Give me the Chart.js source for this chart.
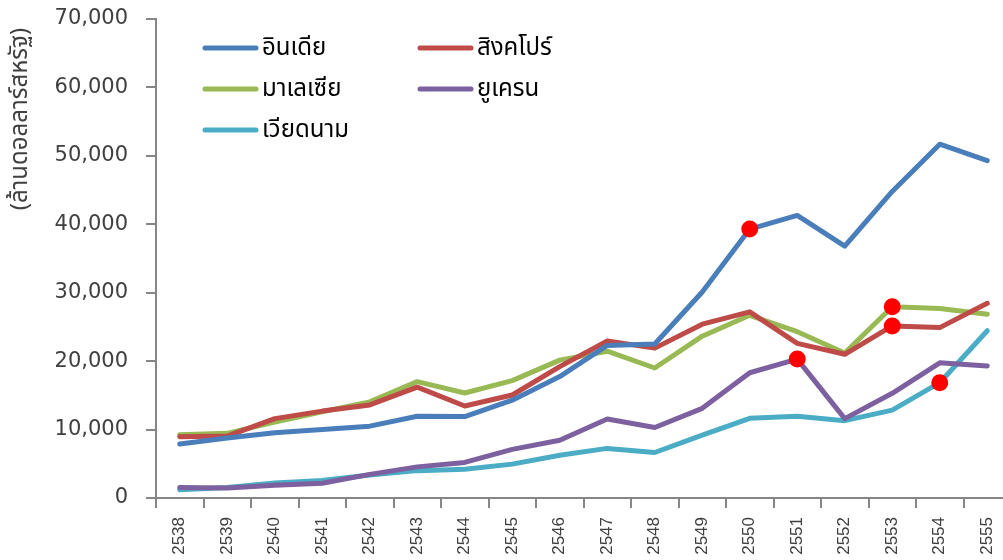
<!DOCTYPE html>
<html>
<head>
<meta charset="utf-8">
<script src="https://cdn.jsdelivr.net/npm/chart.js@4"></script>
<style>
  html, body { margin: 0; padding: 0; background: #fff; overflow: hidden; }
  #wrap { position: relative; width: 1011px; height: 560px; }
</style>
</head>
<body>
<div id="wrap"><canvas id="chart"></canvas></div>
<script>
// ปี พ.ศ.
const years = ['2538','2539','2540','2541','2542','2543','2544','2545','2546',
               '2547','2548','2549','2550','2551','2552','2553','2554','2555'];

// มูลค่า (ล้านดอลลาร์สหรัฐ)
const india     = [7900, 8770, 9550, 10000, 10500, 11950, 11900, 14300, 17750, 22300, 22500, 30100, 39300, 41300, 36800, 44800, 51700, 49300];
const singapore = [8950, 9050, 11600, 12700, 13600, 16200, 13450, 15050, 19200, 22950, 21900, 25400, 27200, 22600, 21000, 25150, 24900, 28450];
const malaysia  = [9250, 9450, 11100, 12600, 14050, 17000, 15350, 17150, 20150, 21450, 19000, 23650, 26700, 24300, 21200, 27950, 27700, 26850];
const ukraine   = [1550, 1450, 1850, 2150, 3450, 4550, 5200, 7100, 8450, 11550, 10300, 13100, 18300, 20300, 11600, 15300, 19750, 19300];
const vietnam   = [1200, 1550, 2200, 2550, 3350, 4000, 4200, 4950, 6250, 7250, 6650, 9200, 11650, 11950, 11300, 12850, 16850, 24450];

const seriesNames  = ['อินเดีย', 'สิงคโปร์', 'มาเลเซีย', 'ยูเครน', 'เวียดนาม'];
const seriesColors = ['#4a7ebb', '#be4b48', '#98b954', '#7d60a0', '#4bacc6'];
// ปีที่มีจุดสีแดง (ตามลำดับ series)
const markedYears  = ['2550', '2553', '2553', '2551', '2554'];

const yTicks = [0, 10000, 20000, 30000, 40000, 50000, 60000, 70000];
const yTitle = '(ล้านดอลลาร์สหรัฐ)';

const thaiFont = "Tahoma, 'Noto Sans Thai', 'Noto Sans', 'DejaVu Sans', sans-serif";

// legend วาดเองในพื้นที่กราฟ (2 คอลัมน์) + ชื่อแกน y ชิดด้านบน
const insideLegend = {
    id: 'insideLegend',
    afterDraw(chart) {
        const ctx = chart.ctx;
        const cols = [203, 418];
        const rows = [48, 89, 130];
        ctx.save();
        chart.data.datasets.forEach((ds, i) => {
            const x = cols[i % 2];
            const y = rows[Math.floor(i / 2)];
            ctx.strokeStyle = ds.borderColor;
            ctx.lineWidth = 5;
            ctx.lineCap = 'round';
            ctx.beginPath();
            ctx.moveTo(x + 2, y);
            ctx.lineTo(x + 53, y);
            ctx.stroke();
            ctx.fillStyle = '#000';
            ctx.font = '24px ' + thaiFont;
            ctx.textBaseline = 'middle';
            ctx.textAlign = 'left';
            ctx.fillText(ds.label, x + 59, y + 2);
        });

        // ชื่อแกน y
        ctx.translate(22, 119);
        ctx.rotate(-Math.PI / 2);
        ctx.fillStyle = '#404040';
        ctx.font = '24px ' + thaiFont;
        ctx.textAlign = 'center';
        ctx.textBaseline = 'middle';
        ctx.fillText(yTitle, 0, 0);
        ctx.restore();
    }
};

const allSeries = [india, singapore, malaysia, ukraine, vietnam];

new Chart(document.getElementById('chart').getContext('2d'), {
    type: 'line',
    data: {
        labels: years,
        datasets: allSeries.map((vals, i) => ({
            label: seriesNames[i],
            data: vals,
            borderColor: seriesColors[i],
            backgroundColor: seriesColors[i],
            borderWidth: 5,
            borderJoinStyle: 'round',
            borderCapStyle: 'round',
            tension: 0,
            pointRadius: ctx => years[ctx.dataIndex] === markedYears[i] ? 8.5 : 0,
            pointHoverRadius: 0,
            pointBorderWidth: 0,
            pointBackgroundColor: '#ff0000',
            pointBorderColor: '#ff0000'
        }))
    },
    options: {
        responsive: true,
        maintainAspectRatio: false,
        animation: false,
        layout: { padding: { top: 19, right: 0, bottom: 0, left: 0 } },
        plugins: {
            legend: { display: false },
            tooltip: { enabled: false }
        },
        scales: {
            x: {
                type: 'category',
                offset: true,
                grid: {
                    offset: true,
                    drawOnChartArea: false,
                    drawTicks: true,
                    tickLength: 10,
                    color: '#868686',
                    lineWidth: 2
                },
                border: { color: '#868686', width: 2 },
                ticks: {
                    minRotation: 90,
                    maxRotation: 90,
                    autoSkip: false,
                    padding: 9,
                    color: '#404040',
                    font: { family: "'Liberation Sans', Arial, sans-serif", size: 17 }
                },
                afterFit(scale) {
                    scale.height = 62;
                    scale.paddingLeft = 0;
                    scale.paddingRight = 0;
                }
            },
            y: {
                min: 0,
                max: 70000,
                afterBuildTicks(scale) { scale.ticks = yTicks.map(v => ({ value: v })); },
                grid: {
                    drawOnChartArea: false,
                    drawTicks: true,
                    tickLength: 10,
                    color: '#868686',
                    lineWidth: 2
                },
                border: { color: '#868686', width: 2 },
                ticks: {
                    padding: 18,
                    color: '#404040',
                    font: { family: "'DejaVu Sans', Verdana, sans-serif", size: 21 },
                    callback: v => v.toLocaleString('en-US')
                },
                afterFit(scale) {
                    scale.width = 156;
                    scale.paddingTop = 0;
                    scale.paddingBottom = 0;
                }
            }
        }
    },
    plugins: [insideLegend]
});
</script>
</body>
</html>
